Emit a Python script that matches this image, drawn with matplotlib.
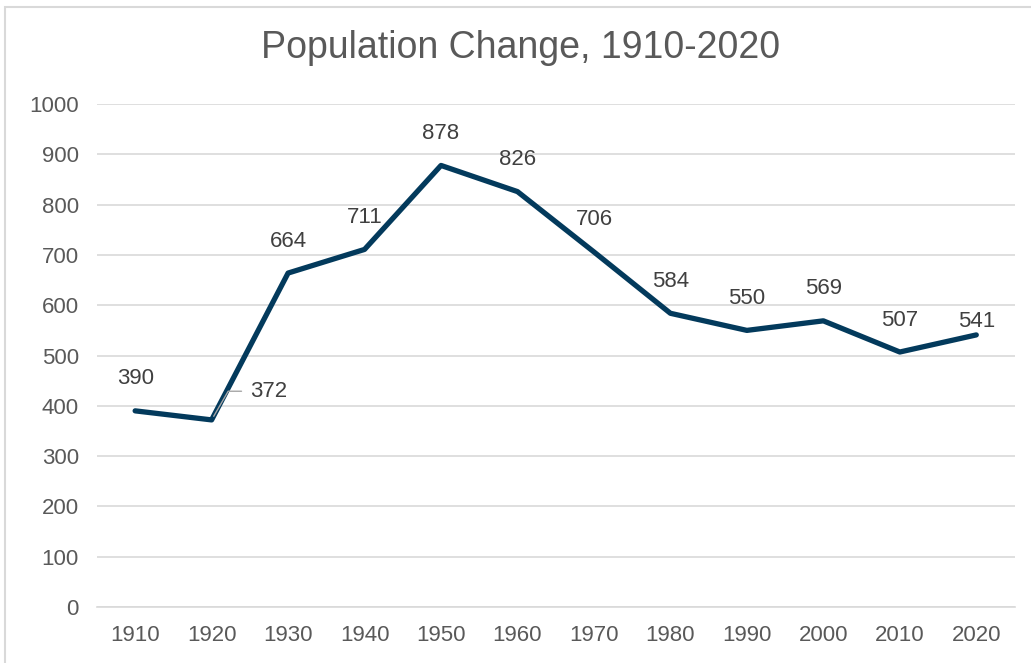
import matplotlib.pyplot as plt
from matplotlib.patches import Rectangle

years = ["1910", "1920", "1930", "1940", "1950", "1960", "1970", "1980", "1990", "2000", "2010", "2020"]
population = [390, 372, 664, 711, 878, 826, 706, 584, 550, 569, 507, 541]

plt.rcParams['font.family'] = ['Liberation Sans', 'DejaVu Sans']

fig = plt.figure(figsize=(10.31, 6.63), dpi=100)
ax = fig.add_axes([0.094, 0.0845, 0.89, 0.7585])

# chart border (cut off at the right and bottom)
fig.patches.append(Rectangle((5 / 1031, -0.1), 1.2, 1 - 7 / 663 + 0.1, transform=fig.transFigure,
                             fill=False, edgecolor='#d9d9d9', linewidth=1.5))

x = list(range(len(years)))
ax.plot(x, population, color='#033a5c', linewidth=3.8, solid_capstyle='round', zorder=3)

for i, v in enumerate(population):
    if i == 1:
        ax.annotate(str(v), xy=(i, v), xytext=(i + 0.5, v + 57), textcoords='data',
                    fontsize=16, color='#404040', va='center', ha='left',
                    arrowprops=dict(arrowstyle='-', color='#a6a6a6', lw=1,
                                    connectionstyle='angle,angleA=0,angleB=60,rad=0',
                                    shrinkA=4, shrinkB=3))
    else:
        dy = 9.5 if i == len(years) - 1 else 23
        ax.annotate(str(v), xy=(i, v), xytext=(0, dy), textcoords='offset points',
                    ha='center', va='center', fontsize=16, color='#404040')

ax.set_xlim(-0.5, len(years) - 0.5)
ax.set_ylim(0, 1000)
ax.set_yticks(range(0, 1001, 100))
ax.set_xticks(x)
ax.set_xticklabels(years)
ax.grid(axis='y', color='#d9d9d9', linewidth=1.2)
ax.set_axisbelow(True)
for s in ['top', 'right', 'left']:
    ax.spines[s].set_visible(False)
ax.spines['bottom'].set_color('#d9d9d9')
ax.spines['bottom'].set_linewidth(1.2)
ax.tick_params(length=0, labelsize=16, labelcolor='#595959', pad=13)
ax.tick_params(axis='y', pad=13)

fig.text(0.505, 0.927, "Population Change, 1910-2020", ha='center', va='center',
         fontsize=27, color='#595959')

fig.savefig("out.png", dpi=100)
